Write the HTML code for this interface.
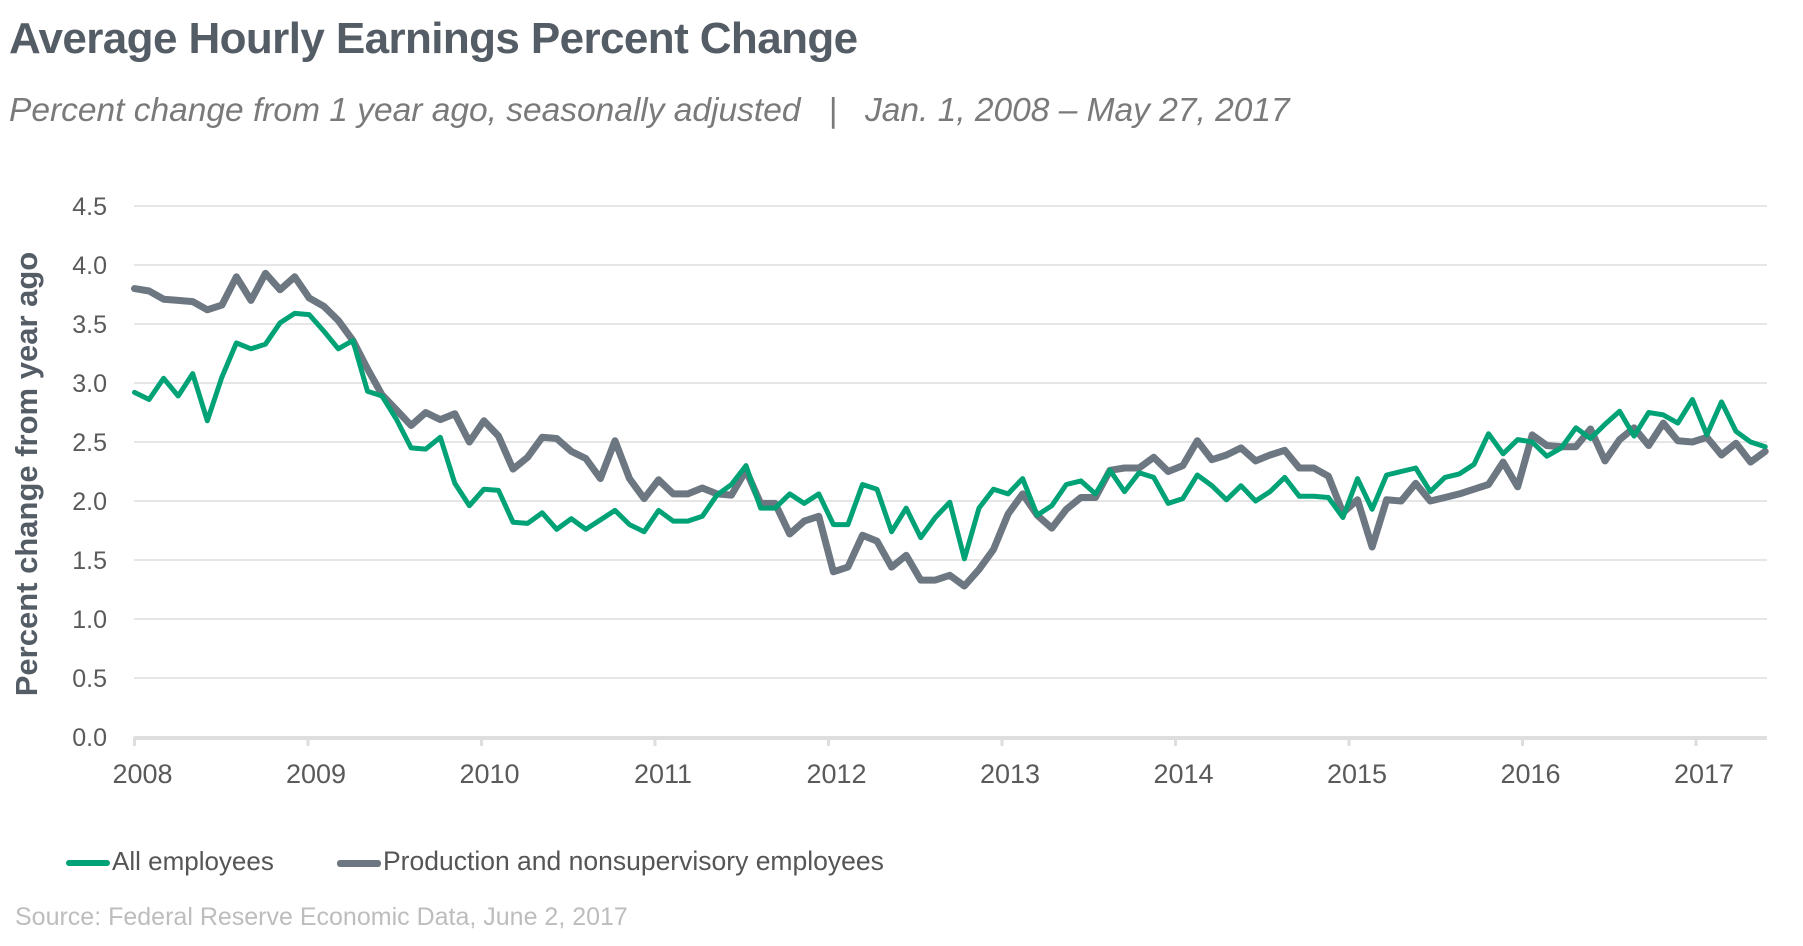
<!DOCTYPE html>
<html><head><meta charset="utf-8"><style>
body{margin:0;background:#fff;width:1803px;height:946px;overflow:hidden;font-family:"Liberation Sans",sans-serif}
.t{position:absolute;white-space:nowrap}
</style></head><body>
<div class="t" style="left:9px;top:14px;font-size:44px;font-weight:bold;color:#545c65;letter-spacing:-0.6px">Average Hourly Earnings Percent Change</div>
<div class="t" style="left:9px;top:92px;font-size:33.5px;font-style:italic;color:#7a7a7a">Percent change from 1 year ago, seasonally adjusted &nbsp;&nbsp;| &nbsp;&nbsp;Jan. 1, 2008 – May 27, 2017</div>
<svg id="chart" width="1803" height="946" style="position:absolute;left:0;top:0"></svg>
<script>
const yTicks=[0,0.5,1,1.5,2,2.5,3,3.5,4,4.5];
const yearLabels=["2008","2009","2010","2011","2012","2013","2014","2015","2016","2017"];
const allEmployees=[2.92,2.86,3.04,2.89,3.08,2.68,3.05,3.34,3.29,3.33,3.51,3.59,
3.58,3.44,3.29,3.36,2.93,2.89,2.69,2.45,2.44,2.54,2.15,1.96,
2.10,2.09,1.82,1.81,1.90,1.76,1.85,1.76,1.84,1.92,1.80,1.74,
1.92,1.83,1.83,1.87,2.05,2.14,2.30,1.94,1.94,2.06,1.98,2.06,
1.80,1.80,2.14,2.10,1.74,1.94,1.69,1.86,1.99,1.51,1.94,2.10,
2.06,2.19,1.88,1.96,2.14,2.17,2.06,2.26,2.08,2.24,2.20,1.98,
2.02,2.22,2.13,2.01,2.13,2.00,2.08,2.20,2.04,2.04,2.03,1.86,
2.19,1.93,2.22,2.25,2.28,2.08,2.20,2.23,2.31,2.57,2.40,2.52,
2.50,2.38,2.45,2.62,2.53,2.65,2.76,2.55,2.75,2.73,2.66,2.86,
2.56,2.84,2.59,2.50,2.46];
const production=[3.80,3.78,3.71,3.70,3.69,3.62,3.66,3.90,3.70,3.93,3.79,3.90,
3.72,3.65,3.53,3.36,3.12,2.90,2.77,2.64,2.75,2.69,2.74,2.50,
2.68,2.55,2.27,2.37,2.54,2.53,2.42,2.36,2.19,2.51,2.19,2.02,
2.18,2.06,2.06,2.11,2.06,2.05,2.26,1.98,1.98,1.72,1.83,1.87,
1.40,1.44,1.71,1.66,1.44,1.54,1.33,1.33,1.37,1.28,1.42,1.59,
1.89,2.06,1.88,1.77,1.93,2.03,2.03,2.26,2.28,2.28,2.37,2.25,
2.30,2.51,2.35,2.39,2.45,2.34,2.39,2.43,2.28,2.28,2.21,1.90,
2.01,1.61,2.01,2.00,2.15,2.00,2.03,2.06,2.10,2.14,2.33,2.12,
2.56,2.47,2.46,2.46,2.61,2.34,2.52,2.62,2.47,2.66,2.51,2.50,
2.54,2.39,2.49,2.33,2.42];
const NS="http://www.w3.org/2000/svg";
const svg=document.getElementById('chart');
const X0=134.5,YW=173.5,Y0=737,YU=(737-206)/4.5;
const xs=m=>X0+m*YW/12;
const xi=i=>xs(i*1.007);
const ys=v=>Y0-v*YU;
function mk(t,a){const e=document.createElementNS(NS,t);for(const k in a)e.setAttribute(k,a[k]);svg.appendChild(e);return e;}
yTicks.forEach((v,i)=>{
  if(i>0){const g=mk('line',{x1:134,x2:1767,y1:ys(v),y2:ys(v),stroke:'#e6e6e6','stroke-width':2});
  
  }
  const t=mk('text',{x:107,y:ys(v)+9,'text-anchor':'end','font-size':25,fill:'#5a5a5a','font-family':'Liberation Sans, sans-serif'});
  t.textContent=v.toFixed(1);
  
  
});
const base=mk('line',{x1:134,x2:1767,y1:Y0+1,y2:Y0+1,stroke:'#dedede','stroke-width':4});


yearLabels.forEach((y,i)=>{
  const x=xs(i*12);
  const tk=mk('line',{x1:x,x2:x,y1:Y0,y2:Y0+9,stroke:'#dedede','stroke-width':3});
  
  
  const t=mk('text',{x:x+8,y:783,'text-anchor':'middle','font-size':27,fill:'#5a5a5a','font-family':'Liberation Sans, sans-serif'});
  t.textContent=y;
  
  
});
const yt=mk('text',{x:0,y:0,transform:'translate(37,474) rotate(-90)','text-anchor':'middle','font-size':31,'font-weight':'bold',fill:'#545c65','font-family':'Liberation Sans, sans-serif'});
yt.textContent='Percent change from year ago';


function line(arr,col,w,name){
  const p=arr.map((v,i)=>(i?'L':'M')+xi(i).toFixed(1)+','+ys(v).toFixed(1)).join('');
  const e=mk('path',{d:p,fill:'none',stroke:col,'stroke-width':w,'stroke-linejoin':'round','stroke-linecap':'round'});
  
  
}
line(production,'#6c7781',7,'production-line');
line(allEmployees,'#00a276',5,'all-employees-line');
</script>
<div class="t" style="left:66px;top:846px;font-size:26px;color:#555">
  <span style="display:inline-block;width:44px;height:6px;background:#00a276;border-radius:3px;vertical-align:middle;margin-right:2px"></span>All employees</div>
<div class="t" style="left:337px;top:846px;font-size:26.5px;color:#555">
  <span style="display:inline-block;width:44px;height:7px;background:#6c7781;border-radius:3px;vertical-align:middle;margin-right:2px"></span>Production and nonsupervisory employees</div>
<div class="t" style="left:15px;top:903px;font-size:25px;color:#bdbdbd">Source: Federal Reserve Economic Data, June 2, 2017</div>
</body></html>
